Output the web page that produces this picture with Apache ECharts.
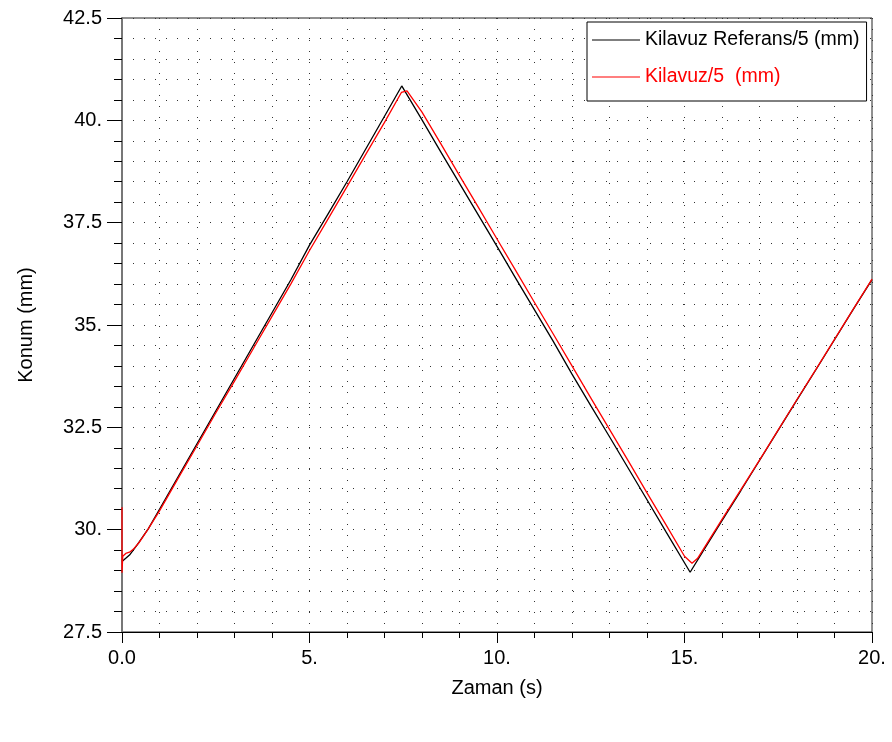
<!DOCTYPE html>
<html>
<head>
<meta charset="utf-8">
<script src="https://cdn.jsdelivr.net/npm/echarts@6/dist/echarts.min.js"></script>
<style>
html,body{margin:0;padding:0;background:#fff;}
#chart{width:892px;height:742px;}
</style>
</head>
<body>
<div id="chart"></div>
<script>
// ---- data ----
var refTime = [0, 0.2, 0.4, 0.7, 1.0, 1.5, 2.0, 2.5, 3.0, 3.5, 4.0, 4.5, 5.0, 5.5, 6.0, 6.5, 7.0, 7.46,
  8.0, 8.5, 9.0, 9.5, 10.0, 10.5, 11.0, 11.5, 12.0, 12.5, 13.0, 13.5, 14.0, 14.5, 15.15,
  15.5, 16.0, 16.5, 17.0, 17.5, 18.0, 18.5, 19.0, 19.5, 20.0];
var refPos = [29.22, 29.38, 29.62, 30.02, 30.50, 31.30, 32.10, 32.90, 33.70, 34.50, 35.30, 36.10, 36.95, 37.72, 38.50, 39.30, 40.10, 40.84,
  40.01, 39.23, 38.46, 37.69, 36.92, 36.14, 35.37, 34.60, 33.80, 33.03, 32.27, 31.50, 30.73, 29.96, 28.96,
  29.48, 30.22, 30.95, 31.69, 32.43, 33.17, 33.90, 34.64, 35.38, 36.11];

var actTime = [0, 0, 0, 0.02, 0.1, 0.2, 0.3, 0.45, 0.7, 1.0, 1.5, 2.0, 2.5, 3.0, 3.5, 4.0, 4.5, 5.0, 5.5, 6.0, 6.5, 7.0, 7.45, 7.6,
  8.0, 8.5, 9.0, 9.5, 10.0, 10.5, 11.0, 11.5, 12.0, 12.5, 13.0, 13.5, 14.0, 14.5, 15.0, 15.2, 15.35,
  15.5, 16.0, 16.5, 17.0, 17.5, 18.0, 18.5, 19.0, 19.5, 20.0];
var actPos = [29.30, 30.55, 28.95, 29.35, 29.42, 29.45, 29.52, 29.68, 30.02, 30.46, 31.26, 32.05, 32.85, 33.63, 34.42, 35.21, 36.00, 36.82, 37.60, 38.38, 39.17, 39.95, 40.68, 40.72,
  40.20, 39.43, 38.65, 37.88, 37.10, 36.33, 35.55, 34.78, 34.00, 33.22, 32.45, 31.68, 30.90, 30.13, 29.35, 29.18, 29.30,
  29.52, 30.25, 30.97, 31.70, 32.44, 33.18, 33.91, 34.65, 35.39, 36.12];

var seriesNames = ['Kilavuz Referans/5 (mm)', 'Kilavuz/5  (mm)'];
var xTickValues = [0, 5, 10, 15, 20];
var xTickLabels = ['0.0', '5.', '10.', '15.', '20.'];
var yTickValues = [27.5, 30, 32.5, 35, 37.5, 40, 42.5];
var yTickLabels = ['27.5', '30.', '32.5', '35.', '37.5', '40.', '42.5'];
var xTitle = 'Zaman (s)';
var yTitle = 'Konum (mm)';

function pairs(xs, ys) { return xs.map(function (x, i) { return [x, ys[i]]; }); }
function labelFor(values, labels) {
  return function (v) {
    for (var i = 0; i < values.length; i++) if (Math.abs(values[i] - v) < 1e-6) return labels[i];
    return '';
  };
}

var FONT = "'Liberation Sans', Arial, sans-serif";
var dotted = { color: '#333', width: 1, type: [1, 10] };

var chart = echarts.init(document.getElementById('chart'), null, { renderer: 'canvas' });
chart.setOption({
  animation: false,
  backgroundColor: '#fff',
  textStyle: { fontFamily: FONT },
  grid: { left: 122, right: 20, top: 18, bottom: 110, show: true, borderColor: '#222', borderWidth: 1, backgroundColor: 'transparent' },
  legend: {
    orient: 'vertical', left: 587, top: 22,
    padding: [6, 7, 12, 5], itemGap: 13, itemWidth: 48, itemHeight: 1, itemTextGap: 5,
    borderColor: '#000', borderWidth: 1, backgroundColor: '#fff',
    icon: 'rect',
    textStyle: { fontFamily: FONT, fontSize: 19.5, lineHeight: 24 },
    data: [
      { name: seriesNames[0], textStyle: { color: '#000' } },
      { name: seriesNames[1], textStyle: { color: '#ff0000' } }
    ]
  },
  xAxis: {
    type: 'value', min: 0, max: 20, interval: 5,
    name: xTitle, nameLocation: 'middle', nameGap: 46,
    nameTextStyle: { fontFamily: FONT, fontSize: 20, color: '#000' },
    axisLine: { show: true, onZero: false, lineStyle: { color: '#000', width: 1 } },
    axisTick: { show: true, length: 11, lineStyle: { color: '#000' } },
    minorTick: { show: true, splitNumber: 5, length: 6, lineStyle: { color: '#000' } },
    splitLine: { show: true, lineStyle: dotted },
    minorSplitLine: { show: true, lineStyle: dotted },
    axisLabel: { margin: 16, fontFamily: FONT, fontSize: 20, color: '#000', formatter: labelFor(xTickValues, xTickLabels) }
  },
  yAxis: {
    type: 'value', min: 27.5, max: 42.5, interval: 2.5,
    name: yTitle, nameLocation: 'middle', nameGap: 86, nameRotate: 90,
    nameTextStyle: { fontFamily: FONT, fontSize: 20, color: '#000' },
    axisLine: { show: true, onZero: false, lineStyle: { color: '#777', width: 2 } },
    axisTick: { show: true, length: 15, lineStyle: { color: '#000' } },
    minorTick: { show: true, splitNumber: 5, length: 8, lineStyle: { color: '#000' } },
    splitLine: { show: true, lineStyle: dotted },
    minorSplitLine: { show: true, lineStyle: dotted },
    axisLabel: { margin: 20, fontFamily: FONT, fontSize: 20, color: '#000', formatter: labelFor(yTickValues, yTickLabels) }
  },
  series: [
    {
      name: seriesNames[0], type: 'line', data: pairs(refTime, refPos),
      showSymbol: false, symbol: 'none', color: '#000',
      lineStyle: { color: '#000', width: 1.3 }
    },
    {
      name: seriesNames[1], type: 'line', data: pairs(actTime, actPos),
      showSymbol: false, symbol: 'none', color: '#ff0000',
      lineStyle: { color: '#ff0000', width: 1.3 }
    }
  ]
});
</script>
</body>
</html>
